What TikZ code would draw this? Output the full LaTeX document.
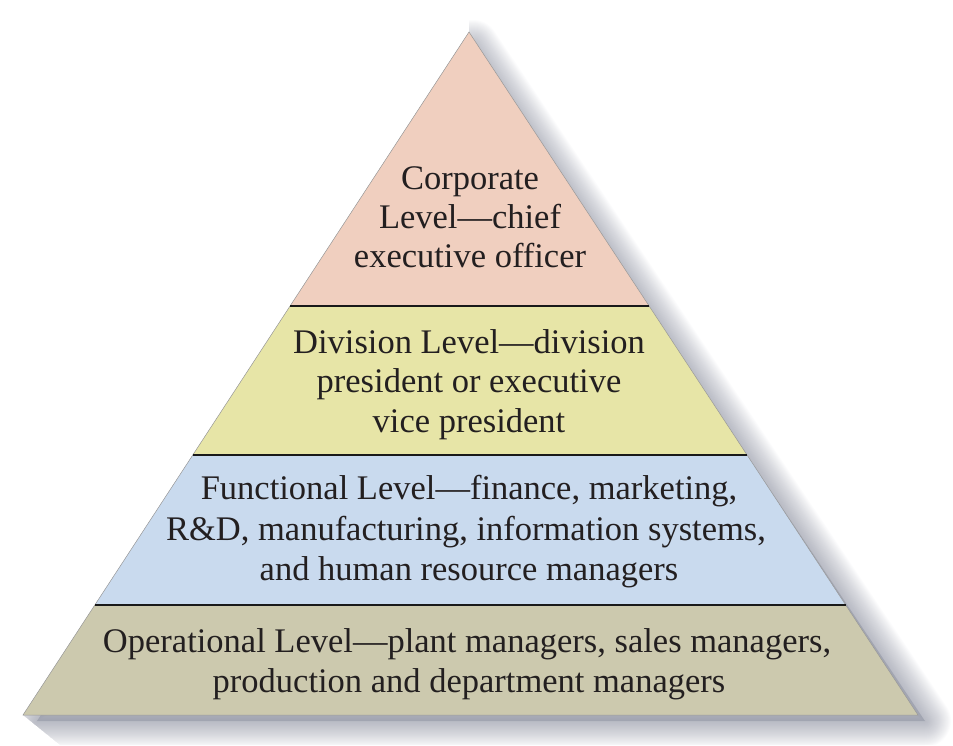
\documentclass[tikz,border=0pt]{standalone}
\usepackage{fontspec}
\setmainfont{Liberation Serif}
\usetikzlibrary{calc}
\definecolor{corpcol}{RGB}{240,207,191}
\definecolor{divcol}{RGB}{231,229,167}
\definecolor{funccol}{RGB}{201,218,238}
\definecolor{opcol}{RGB}{204,201,174}
\definecolor{inkcol}{RGB}{35,31,32}
\definecolor{shadecol}{RGB}{105,110,130}
\begin{document}
\begin{tikzpicture}[x=1pt,y=-1pt,
  lbl/.style={anchor=base, inner sep=0pt, text=inkcol, font=\fontsize{34.5}{40}\selectfont},
  sepline/.style={line width=2.6pt, draw=black!90},
  rim/.style={draw=black!40, line width=0.5pt, line join=miter},
  shadelayer/.style={draw=shadecol, opacity=0.025, line join=round}]
\useasboundingbox (0,0) rectangle (953,745);
\coordinate (A) at (469,32);
\coordinate (BL) at (23,715);
\coordinate (BR) at (918,715);
\coordinate (L1) at ($(A)!0.4012!(BL)$);
\coordinate (R1) at ($(A)!0.4012!(BR)$);
\coordinate (L2) at ($(A)!0.6193!(BL)$);
\coordinate (R2) at ($(A)!0.6193!(BR)$);
\coordinate (L3) at ($(A)!0.8389!(BL)$);
\coordinate (R3) at ($(A)!0.8389!(BR)$);
% shadow (right and below only)
\coordinate (SA) at ($(A)+(4,14)$);
\coordinate (SL) at ($(BL)+(14,6)$);
\coordinate (SR) at ($(BR)+(7,6)$);
\begin{scope}
  \clip (469,0) -- (A) -- (BL) -- (60,745) -- (953,745) -- (953,0) -- cycle;
  \foreach \w in {2,4,...,52}
    \draw[shadelayer, line width=\w pt] (SA) -- (SR) -- (SL) -- cycle;
  \fill[shadecol, opacity=0.3] (SA) -- (SR) -- (SL) -- cycle;
\end{scope}
% bands
\fill[corpcol] (A) -- (L1) -- (R1) -- cycle;
\fill[divcol] (L1) -- (L2) -- (R2) -- (R1) -- cycle;
\fill[funccol] (L2) -- (L3) -- (R3) -- (R2) -- cycle;
\fill[opcol] (L3) -- (BL) -- (BR) -- (R3) -- cycle;
\draw[rim] (A) -- (BL) -- (BR) -- cycle;
\draw[sepline] (L1) -- (R1);
\draw[sepline] (L2) -- (R2);
\draw[sepline] (L3) -- (R3);
% texts
\node[lbl] (c1) at (470,189) {Corporate};
\node[lbl] (c2) at (470,228) {Level—chief};
\node[lbl] (c3) at (470,267) {executive officer};
\node[lbl] (d1) at (469,353) {Division Level—division};
\node[lbl] (d2) at (469,392) {president or executive};
\node[lbl] (d3) at (469,432) {vice president};
\node[lbl] (f1) at (469,499) {Functional Level—finance, marketing,};
\node[lbl] (f2) at (466,540) {R\&D, manufacturing, information systems,};
\node[lbl] (f3) at (469,580) {and human resource managers};
\node[lbl] (o1) at (467,652) {Operational Level—plant managers, sales managers,};
\node[lbl] (o2) at (469,692) {production and department managers};
\end{tikzpicture}
\end{document}
